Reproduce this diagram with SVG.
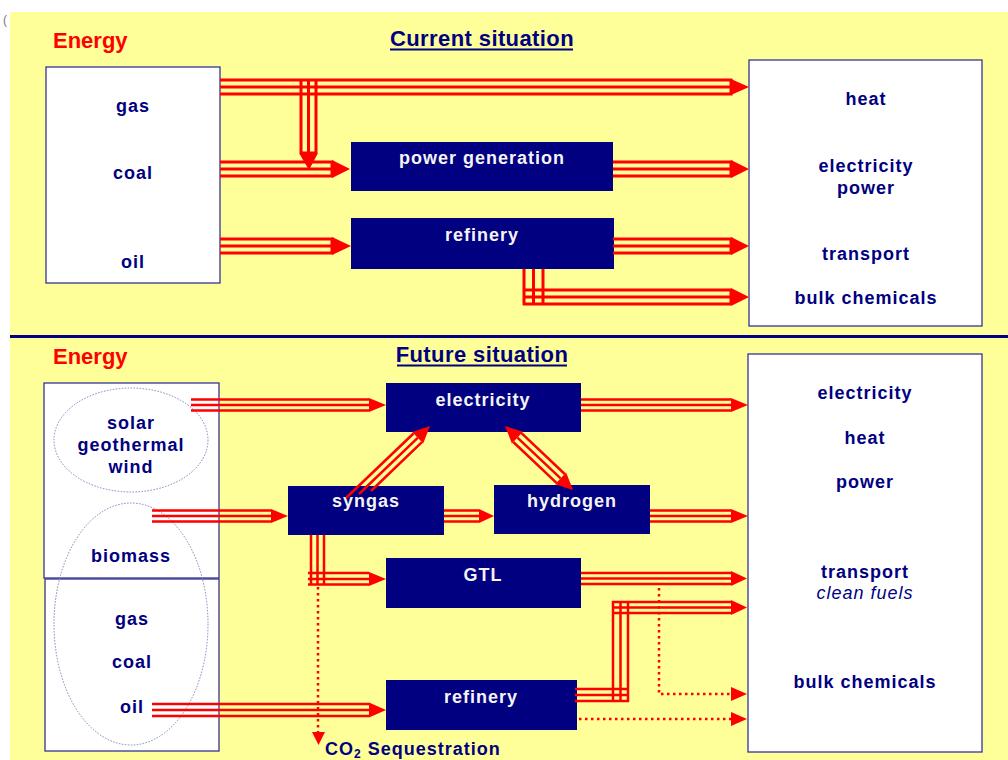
<svg xmlns="http://www.w3.org/2000/svg" width="1008" height="760" viewBox="0 0 1008 760">
<style>
.bg{fill:#FFFF99}
.src{fill:#FFFFFF;stroke:#333399;stroke-width:1.3}
.proc{fill:#000080}
.ell{fill:none;stroke:#8080B8;stroke-width:1;stroke-dasharray:1.5 1.5}
.t{font-family:"Liberation Sans",Arial,sans-serif;font-weight:bold;font-size:18px;letter-spacing:1px;text-anchor:middle;fill:#000080}
.w{fill:#F4F4F4}
.it{font-weight:normal;font-style:italic}
.title{font-family:"Liberation Sans",Arial,sans-serif;font-weight:bold;font-size:22px;letter-spacing:0.4px;text-anchor:middle;fill:#000080}
.energy{font-family:"Liberation Sans",Arial,sans-serif;font-weight:bold;font-size:22px;fill:#FF0000}
.b3{fill:none;stroke:#FF0000;stroke-width:3}
.b2{fill:none;stroke:#FF0000;stroke-width:2.5}
.dot{fill:none;stroke:#FF0000;stroke-width:2.5;stroke-dasharray:2.5 3.5}
.hd{fill:#FF0000}
</style>
<rect x="0" y="0" width="1008" height="760" fill="#FFFFFF"/>
<rect class="bg" x="10" y="12" width="998" height="748"/>
<text x="3" y="24" font-family="Liberation Sans,Arial,sans-serif" font-size="12" fill="#777777">(</text>
<rect x="10" y="335" width="998" height="3" fill="#000080"/>

<g id="titles">
<text class="energy" x="53" y="48">Energy</text>
<text class="title" x="482" y="46">Current situation</text>
<rect x="390" y="48.5" width="183" height="2" fill="#000080"/>
<text class="energy" x="53" y="364">Energy</text>
<text class="title" x="482" y="362">Future situation</text>
<rect x="397" y="364.5" width="170" height="2" fill="#000080"/>
</g>

<g id="cur-sources">
<rect class="src" x="46" y="67" width="174" height="216"/>
<text class="t" x="133" y="112">gas</text>
<text class="t" x="133" y="179">coal</text>
<text class="t" x="133" y="268">oil</text>
</g>
<g id="cur-uses">
<rect class="src" x="749" y="60" width="233" height="266"/>
<text class="t" x="866" y="105">heat</text>
<text class="t" x="866" y="172">electricity</text>
<text class="t" x="866" y="194">power</text>
<text class="t" x="866" y="260">transport</text>
<text class="t" x="866" y="304">bulk chemicals</text>
</g>
<g id="cur-powergen">
<rect class="proc" x="351" y="142" width="262" height="49"/>
<text class="t w" x="482" y="164">power generation</text>
</g>
<g id="cur-refinery">
<rect class="proc" x="351" y="218" width="263" height="51"/>
<text class="t w" x="482" y="241">refinery</text>
</g>

<g id="fut-sources">
<rect class="src" x="44" y="383" width="175" height="195"/>
<rect class="src" x="45" y="579" width="174" height="172"/>
<ellipse class="ell" cx="131" cy="440" rx="77" ry="52"/>
<ellipse class="ell" cx="131" cy="624" rx="77" ry="121"/>
<text class="t" x="131" y="429">solar</text>
<text class="t" x="131" y="451">geothermal</text>
<text class="t" x="131" y="473">wind</text>
<text class="t" x="131" y="562">biomass</text>
<text class="t" x="132" y="625">gas</text>
<text class="t" x="132" y="668">coal</text>
<text class="t" x="132" y="713">oil</text>
</g>
<g id="fut-uses">
<rect class="src" x="748" y="354" width="234" height="398"/>
<text class="t" x="865" y="399">electricity</text>
<text class="t" x="865" y="444">heat</text>
<text class="t" x="865" y="488">power</text>
<text class="t" x="865" y="578">transport</text>
<text class="t it" x="865" y="599">clean fuels</text>
<text class="t" x="865" y="688">bulk chemicals</text>
</g>
<g id="fut-electricity">
<rect class="proc" x="386" y="383" width="195" height="49"/>
<text class="t w" x="483" y="406">electricity</text>
</g>
<g id="fut-syngas">
<rect class="proc" x="288" y="486" width="156" height="49"/>
<text class="t w" x="366" y="507">syngas</text>
</g>
<g id="fut-hydrogen">
<rect class="proc" x="494" y="485" width="156" height="49"/>
<text class="t w" x="572" y="507">hydrogen</text>
</g>
<g id="fut-gtl">
<rect class="proc" x="386" y="558" width="195" height="50"/>
<text class="t w" x="483" y="581">GTL</text>
</g>
<g id="fut-refinery">
<rect class="proc" x="386" y="680" width="191" height="50"/>
<text class="t w" x="481" y="703">refinery</text>
</g>
<g id="co2-label">
<text font-family="Liberation Sans,Arial,sans-serif" font-weight="bold" font-size="18" letter-spacing="1" fill="#000080" x="325" y="755">CO<tspan font-size="12" dy="3">2</tspan><tspan dy="-3"> Sequestration</tspan></text>
</g>

<g id="connectors">
<!-- current -->
<path class="b3" d="M220,80H731V94H220M220,87H731"/>
<polygon class="hd" points="731,79 749,87 731,95"/>
<path class="b3" d="M301,80V153M308.5,80V153M316,80V153M301,153H316"/>
<polygon class="hd" points="299,153 318,153 309,170"/>
<path class="b3" d="M220,162H332V176H220M220,169H332"/>
<polygon class="hd" points="332,160 350,169 332,178"/>
<path class="b3" d="M613,162H731V176H613M613,169H731"/>
<polygon class="hd" points="731,160 749,169 731,178"/>
<path class="b3" d="M220,239H332V253H220M220,246H332"/>
<polygon class="hd" points="332,237 351,246 332,255"/>
<path class="b3" d="M613,239H731V253H613M613,246H731"/>
<polygon class="hd" points="731,237 749,246 731,255"/>
<path class="b3" d="M524,269V305M533.5,269V305M543,269V305M523,290H731M523,297H731M523,304H731M731,290V304"/>
<polygon class="hd" points="731,288 749,297 731,306"/>
<!-- future -->
<path class="b2" d="M191,399.5H369M191,405H369M191,410.5H369"/>
<polygon class="hd" points="369,398 386,405 369,412"/>
<path class="b2" d="M152,510.5H271M152,516H271M152,521.5H271"/>
<polygon class="hd" points="271,509 288,516 271,523"/>
<path class="b2" d="M152,704H369M152,710H369M152,716H369"/>
<polygon class="hd" points="369,702.5 386,710 369,717.5"/>
<path class="b2" d="M581,399.5H731M581,405H731M581,410.5H731"/>
<polygon class="hd" points="731,398 748,405 731,412"/>
<path class="b2" d="M444,510.5H479M444,516H479M444,521.5H479"/>
<polygon class="hd" points="479,509 494,516 479,523"/>
<path class="b2" d="M650,510.5H731M650,516H731M650,521.5H731"/>
<polygon class="hd" points="731,509 748,516 731,523"/>
<path class="b2" d="M346,498L413.5,433.5M359,494L417.7,437.8M371,491L421.9,442.1"/>
<polygon class="hd" points="430,426 412.2,432 423.2,443.6"/>
<path class="b2" d="M521.5,433.2L564.7,474M517.4,437.6L560.6,478.4M513.3,442L556.5,482.8"/>
<polygon class="hd" points="505,426 511.9,443.4 522.9,431.8"/>
<polygon class="hd" points="573,490 555.1,484.2 566.1,472.6"/>
<path class="b2" d="M311,535V585.5M317.5,535V585.5M324,535V585.5M308,573H369M308,579H369M308,584.5H369"/>
<polygon class="hd" points="369,572 386,579 369,586"/>
<path class="b2" d="M581,573H731M581,578.5H731M581,584H731"/>
<polygon class="hd" points="731,571 747,578.5 731,586"/>
<path class="b2" d="M575,689H629M575,695H629M575,701H629M613,601V702M620.5,601V702M628,601V702M612,602H731M612,607.5H731M612,613H731"/>
<polygon class="hd" points="731,600 747,607.5 731,615"/>
<path class="dot" d="M318,587V733"/>
<polygon class="hd" points="312,732 325,732 318.5,745"/>
<path class="dot" d="M659,588V694H731"/>
<polygon class="hd" points="731,687 747,694 731,701"/>
<path class="dot" d="M579,719H731"/>
<polygon class="hd" points="731,712 747,719 731,726"/>
</g>
</svg>
